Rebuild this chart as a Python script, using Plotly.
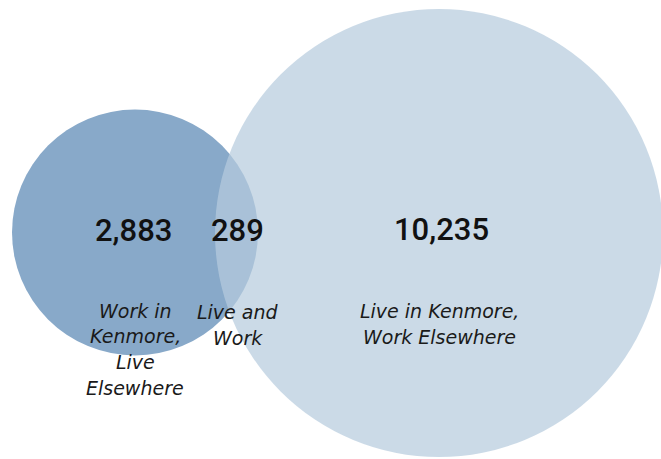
import math
import plotly.graph_objects as go

# ---- data ----
region_names = ["Work in Kenmore, Live Elsewhere", "Live and Work", "Live in Kenmore, Work Elsewhere"]
region_values = [2883, 289, 10235]
region_label_lines = [["Work in", "Kenmore,", "Live", "Elsewhere"],
                      ["Live and", "Work"],
                      ["Live in Kenmore,", "Work Elsewhere"]]

# ---- layout (pixel-based coordinate system) ----
W, H = 661, 459
left_total = region_values[0] + region_values[1]
right_total = region_values[2] + region_values[1]
k = 224 / math.sqrt(right_total)          # area-proportional scale
r_left = k * math.sqrt(left_total)
r_right = k * math.sqrt(right_total)
c_left = (135, 232.5)
c_right = (439, 233)

num_pos = [(133, 230.5), (237, 230.5), (441.5, 229)]
label_pos = [(135, 310.5), (238, 312), (439, 311)]
line_gap = 25.8

fig = go.Figure()
fig.add_trace(go.Scatter(x=[0, W], y=[0, H], mode="markers",
                         marker=dict(opacity=0), hoverinfo="skip", showlegend=False))

fig.add_shape(type="circle", xref="x", yref="y",
              x0=c_left[0] - r_left, x1=c_left[0] + r_left,
              y0=c_left[1] - r_left, y1=c_left[1] + r_left,
              fillcolor="rgb(136,169,201)", line=dict(width=0), layer="below")
fig.add_shape(type="circle", xref="x", yref="y",
              x0=c_right[0] - r_right, x1=c_right[0] + r_right,
              y0=c_right[1] - r_right, y1=c_right[1] + r_right,
              fillcolor="rgba(182,203,221,0.714)", line=dict(width=0), layer="below")

for v, (x, y) in zip(region_values, num_pos):
    fig.add_annotation(x=x, y=y, xref="x", yref="y", text=f"{v:,}", showarrow=False,
                       xanchor="center", yanchor="middle",
                       font=dict(family="Roboto", size=31, color="#111111", weight=500))

for lines, (x, y) in zip(region_label_lines, label_pos):
    for i, line in enumerate(lines):
        fig.add_annotation(x=x, y=y + i * line_gap, xref="x", yref="y", text=line,
                           showarrow=False, xanchor="center", yanchor="middle",
                           font=dict(family="DejaVu Sans", size=19, color="#1a1a1a",
                                     style="italic"))

fig.update_layout(width=W, height=H, margin=dict(l=0, r=0, t=0, b=0),
                  paper_bgcolor="white", plot_bgcolor="white",
                  xaxis=dict(range=[0, W], visible=False, fixedrange=True),
                  yaxis=dict(range=[H, 0], visible=False, fixedrange=True),
                  showlegend=False)

fig.write_html("out.html", config={"displayModeBar": False, "staticPlot": True},
               post_script="document.body.style.margin='0px';document.body.style.overflow='hidden';")
